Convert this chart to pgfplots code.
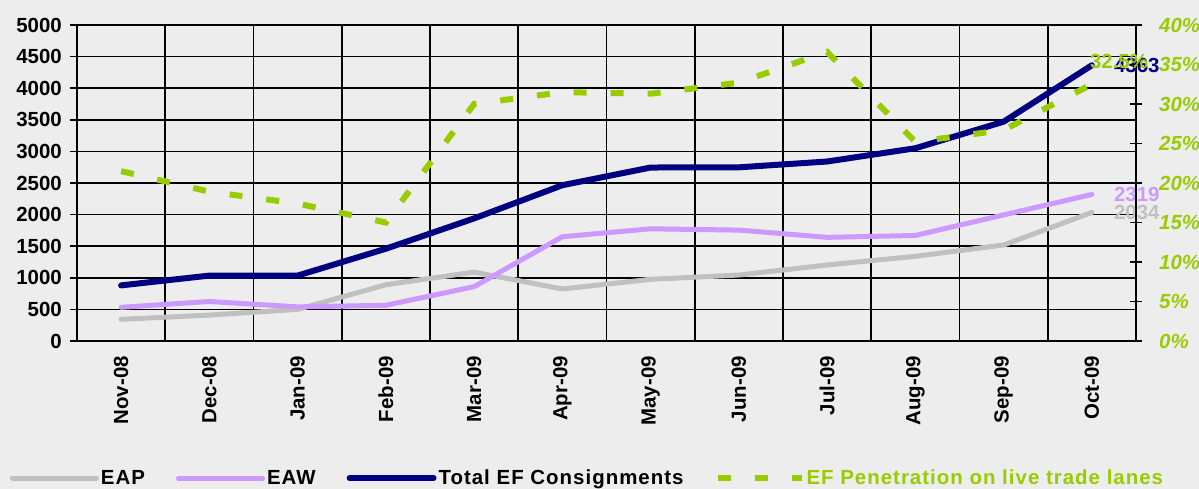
\documentclass[border=0pt]{standalone}
\usepackage{pgfplots}
\usepackage{pgfplotstable}
\pgfplotsset{compat=1.18}
\usepackage{fontspec}
\setmainfont{Liberation Sans}
\definecolor{bg}{HTML}{EDEDED}
\definecolor{navyc}{HTML}{000080}
\definecolor{lav}{HTML}{CC99FF}
\definecolor{grayc}{HTML}{C0C0C0}
\definecolor{greenc}{HTML}{99CC00}
\newcommand\ticksfont{\fontsize{20.5}{22}\selectfont\bfseries}
\newcommand\legfont{\fontsize{20.5}{23}\selectfont\bfseries\addfontfeature{LetterSpace=5}}

\pgfplotstableread{
idx EAP EAW Total Pen
0 343 533 880 21.5
1 410 625 1035 18.9
2 500 540 1035 17.4
3 890 565 1460 15.0
4 1090 860 1940 30.0
5 823 1650 2465 31.5
6 976 1775 2745 31.3
7 1044 1755 2748 32.7
8 1203 1640 2840 36.6
9 1340 1670 3050 25.2
10 1519 1995 3470 26.7
11 2034 2319 4363 32.5
}\data

\begin{document}
\begin{tikzpicture}
\fill[bg] (-77bp,-148bp) rectangle (1122bp,341bp);
\path[use as bounding box] (-77bp,-148bp) rectangle (1122bp,341bp);
\begin{axis}[
  at={(0,0)}, anchor=south west, scale only axis,
  width=1059bp, height=316bp,
  xmin=-0.5, xmax=11.5, ymin=0, ymax=5000,
  clip=false,
  axis line style={black, line width=1.6bp},
  xtick={0,...,11},
  xticklabels={Nov-08,Dec-08,Jan-09,Feb-09,Mar-09,Apr-09,May-09,Jun-09,Jul-09,Aug-09,Sep-09,Oct-09},
  xtick style={draw=none},
  minor xtick={-0.5,0.5,...,11.5},
  minor x tick style={black, line width=1.6bp},
  xminorgrids,
  minor grid style={black, line width=1.6bp},
  ytick={0,500,...,5000},
  ymajorgrids,
  major grid style={black, line width=1.6bp},
  ytick style={black, line width=1.6bp},
  tick align=outside,
  major tick length=7bp, minor tick length=7bp,
  xtick pos=bottom, ytick pos=left,
  xticklabel style={rotate=90, anchor=east, inner sep=0pt, font=\ticksfont, xshift=-8bp},
  yticklabel style={anchor=east, inner sep=0pt, font=\ticksfont, xshift=-8bp},
  /pgf/number format/assume math mode=true,
  /pgf/number format/1000 sep={},
  legend columns=4,
  legend image code/.code={\draw[#1] (0bp,0bp) -- (84bp,0bp);},
  legend style={at={(axis description cs:-0.0633,-0.434)}, anchor=west,
    draw=none, fill=none, inner sep=0pt, outer sep=0pt, font=\legfont,
    nodes={inner sep=0pt},
    /tikz/every odd column/.append style={column sep=2bp},
    /tikz/every even column/.append style={column sep=31bp}},
  legend cell align=left,
]
\addplot[grayc, line width=5bp, line cap=round, line join=round] table[x=idx,y=EAP]{\data};
\addlegendentry{EAP}
\addplot[lav, line width=5bp, line cap=round, line join=round] table[x=idx,y=EAW]{\data};
\addlegendentry{EAW}
\addplot[navyc, line width=6bp, line cap=round, line join=round] table[x=idx,y=Total]{\data};
\addlegendentry{Total EF Consignments}
\addlegendimage{greenc, line width=6bp, dash pattern=on 13bp off 24bp}
\addlegendentry{\textcolor{greenc}{EF Penetration on live trade lanes}}
\node[anchor=west, inner sep=0pt, xshift=22bp, text=grayc, font=\ticksfont] at (axis cs:11,2034) {2034};
\node[anchor=west, inner sep=0pt, xshift=22bp, text=lav, font=\ticksfont] at (axis cs:11,2319) {2319};
\node[anchor=west, inner sep=0pt, xshift=22bp, text=navyc, font=\ticksfont] at (axis cs:11,4363) {4363};
\end{axis}
\begin{axis}[
  at={(0,0)}, anchor=south west, scale only axis,
  width=1059bp, height=316bp,
  xmin=-0.5, xmax=11.5, ymin=0, ymax=40,
  clip=false,
  axis x line=none, axis y line*=right,
  axis line style={black, line width=1.6bp},
  ytick={0,5,...,40},
  yticklabel={\pgfmathprintnumber{\tick}\%},
  yticklabel style={anchor=west, inner sep=0pt, font=\ticksfont\itshape, text=greenc, xshift=17bp},
  tick align=center, major tick length=12bp,
  ytick style={black, line width=1.6bp},
  /pgf/number format/assume math mode=true,
]
\addplot[greenc, line width=6bp, dash pattern=on 13bp off 24bp] table[x=idx,y=Pen]{\data};
\node[anchor=west, inner sep=0pt, xshift=-2bp, yshift=23bp, text=greenc, font=\ticksfont] at (axis cs:11,32.5) {32.5\%};
\end{axis}
\end{tikzpicture}
\end{document}
